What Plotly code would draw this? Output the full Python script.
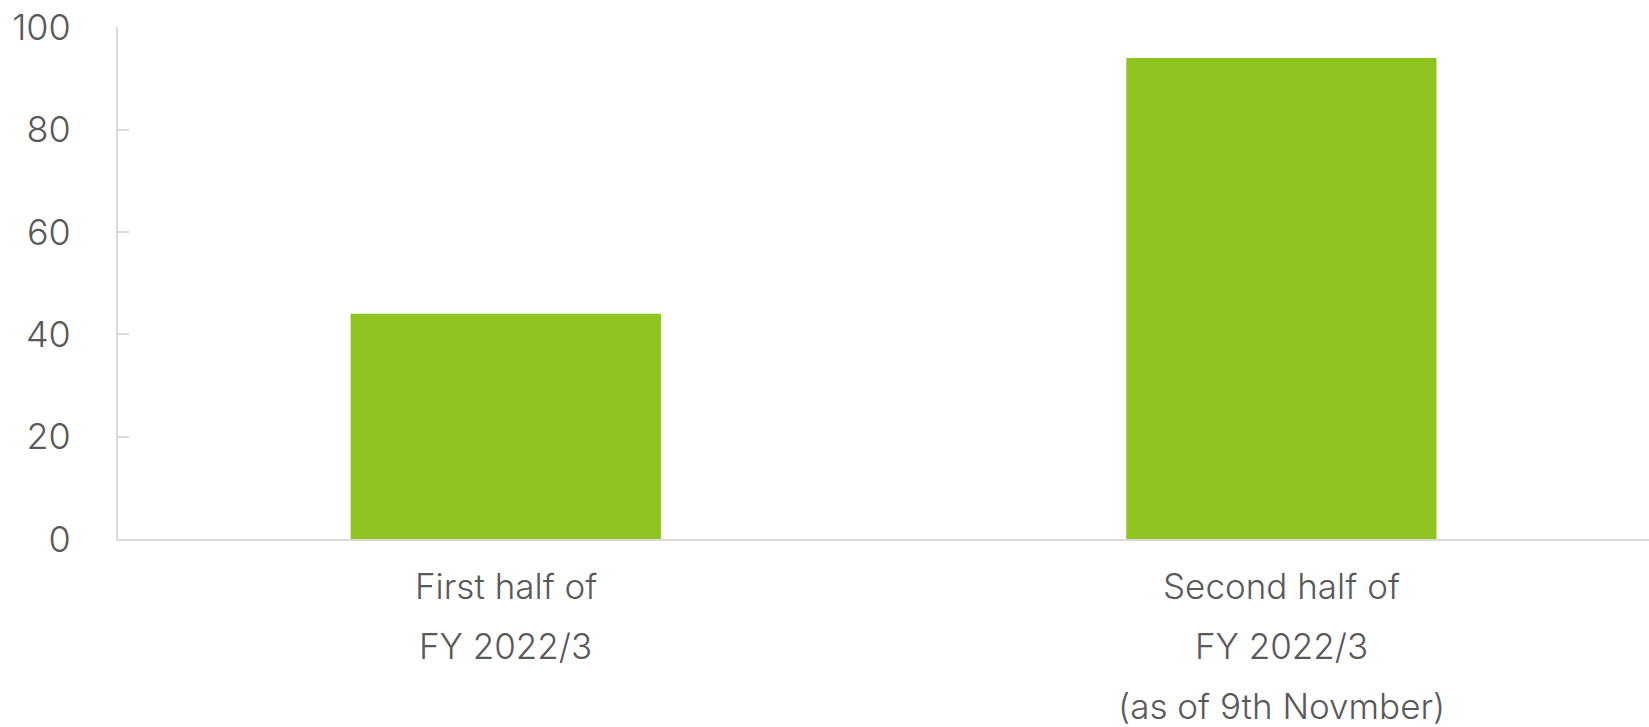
import plotly.graph_objects as go

# Chart data
categories = ["First half of<br>FY 2022/3", "Second half of<br>FY 2022/3<br>(as of 9th Novmber)"]
values = [44, 94]
y_ticks = [0, 20, 40, 60, 80, 100]

BAR_COLOR = "#8fc31f"
AXIS_COLOR = "#d9d9d9"
TEXT_COLOR = "#595959"
FONT = "Inter"

x_pos = list(range(len(categories)))

fig = go.Figure(
    go.Bar(
        x=x_pos,
        y=values,
        width=0.4,
        marker=dict(color=BAR_COLOR, line=dict(width=0)),
    )
)

# Multi-line category labels, one annotation per line for wider line spacing
LINE_GAP = 60
FIRST_OFFSET = 47
for xi, label in zip(x_pos, categories):
    for i, line in enumerate(label.split("<br>")):
        fig.add_annotation(
            x=xi, xref="x", y=0, yref="y",
            text=line, showarrow=False,
            yshift=-(FIRST_OFFSET + i * LINE_GAP),
            font=dict(family=FONT, size=35, color=TEXT_COLOR, weight=300),
            xanchor="center", yanchor="middle",
        )

fig.update_layout(
    width=1649, height=727,
    margin=dict(l=118, r=0, t=27, b=188),
    paper_bgcolor="white", plot_bgcolor="white",
    showlegend=False,
    font=dict(family=FONT, color=TEXT_COLOR),
)
fig.update_xaxes(
    range=[-0.5, 1.474],
    showticklabels=False, ticks="",
    showgrid=False, zeroline=False,
    showline=True, linecolor=AXIS_COLOR, linewidth=2,
)
fig.update_yaxes(
    range=[0, 100.05],
    tickvals=y_ticks,
    ticks="inside", ticklen=11, tickwidth=1.5, tickcolor=AXIS_COLOR,
    ticklabelstandoff=38,
    ticklabeloverflow="allow",
    tickfont=dict(family=FONT, size=36, color=TEXT_COLOR, weight=300),
    showgrid=False, zeroline=False,
    showline=True, linecolor=AXIS_COLOR, linewidth=2,
)

fig.write_html("out.html")
